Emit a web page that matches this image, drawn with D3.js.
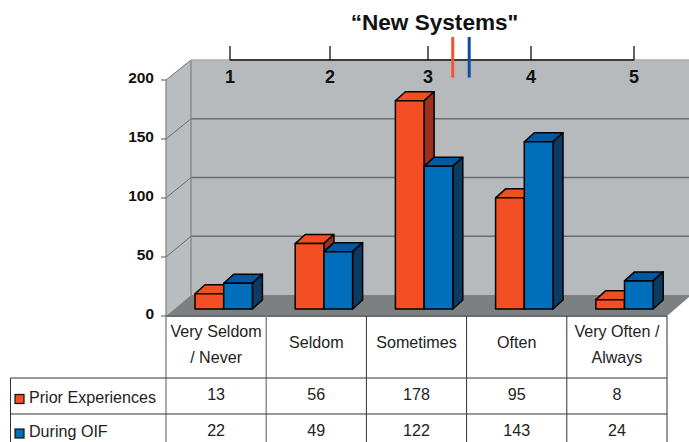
<!DOCTYPE html>
<html>
<head>
<meta charset="utf-8">
<script src="https://cdn.jsdelivr.net/npm/d3@7"></script>
<style>
html,body{margin:0;padding:0;background:#fff;overflow:hidden}
svg{display:block}
text{font-family:"Liberation Sans",Arial,sans-serif}
</style>
</head>
<body>
<svg id="c" width="689" height="442"></svg>
<script>
const chartTitle = "\u201CNew Systems\"";
const categories = [["Very Seldom","/ Never"],["Seldom"],["Sometimes"],["Often"],["Very Often /","Always"]];
const seriesNames = ["Prior Experiences","During OIF"];
const prior = [13,56,178,95,8];
const during = [22,49,122,143,24];
const yTicks = [0,50,100,150,200];
const scalePoints = [1,2,3,4,5];
const means = [3.24,3.40];

const redC = {front:"#F44E25",top:"#F04E23",side:"#9C2F1C"};
const blueC = {front:"#006FBB",top:"#0058A0",side:"#0B3A63"};

const svg = d3.select("#c");
const W = 689;
const frontL = 166, frontR = 667;
const y = d3.scaleLinear().domain([0,200]).range([316,80]);
const yBack = d3.scaleLinear().domain([0,200]).range([295,60]);
const yBar = d3.scaleLinear().domain([0,200]).range([309,75]);
const x = d3.scaleBand().domain(d3.range(categories.length)).range([frontL,frontR]);
const topX = d3.scaleLinear().domain(scalePoints).range([230,330,428,531,634]);
const poly = p => p.map(a=>a.join(",")).join(" ");

// walls and floor
svg.append("polygon").attr("points",poly([[191,60],[W,60],[W,295],[191,295]])).attr("fill","#B6BABD");
svg.append("polygon").attr("points",poly([[frontL,y(200)],[191,60],[191,295],[frontL,316]])).attr("fill","#B9BDC0");
svg.append("polygon").attr("points",poly([[191,295],[W,295],[W,297],[frontR,316],[frontL,316]])).attr("fill","#7D8083");

// grid
const gridT = yTicks.filter(d=>d>0 && d<200);
svg.selectAll(".gb").data(gridT).join("line")
  .attr("x1",191).attr("x2",W).attr("y1",yBack).attr("y2",yBack)
  .attr("stroke","#6A6D70").attr("stroke-width",1.3);
svg.selectAll(".gs").data(yTicks.filter(d=>d>0)).join("line")
  .attr("x1",frontL).attr("x2",191).attr("y1",y).attr("y2",yBack)
  .attr("stroke","#55585a").attr("stroke-width",0.8);
svg.append("line").attr("x1",191).attr("x2",191).attr("y1",60).attr("y2",295).attr("stroke","#7d8083").attr("stroke-width",1.2);
svg.append("line").attr("x1",frontL).attr("x2",frontL).attr("y1",y(200)).attr("y2",316).attr("stroke","#7d8083").attr("stroke-width",1.2);
svg.append("line").attr("x1",191).attr("x2",W).attr("y1",60).attr("y2",60).attr("stroke","#A9ACAE").attr("stroke-width",1.5);

// y axis labels
svg.selectAll(".yt").data(yTicks).join("line")
  .attr("x1",frontL-5).attr("x2",frontL).attr("y1",y).attr("y2",y).attr("stroke","#555");
svg.selectAll(".yl").data(yTicks).join("text")
  .attr("x",154).attr("y",d=>y(d)+3).attr("text-anchor","end")
  .attr("font-size",15.5).attr("font-weight","bold").attr("fill","#111").text(d=>d);

// top Likert scale
svg.append("line").attr("x1",topX(1)).attr("x2",topX(5)).attr("y1",60).attr("y2",60).attr("stroke","#111").attr("stroke-width",1.5);
svg.selectAll(".tt").data(scalePoints).join("line")
  .attr("x1",topX).attr("x2",topX).attr("y1",46).attr("y2",60).attr("stroke","#111").attr("stroke-width",1.3);
svg.selectAll(".tl").data(scalePoints).join("text")
  .attr("x",topX).attr("y",83).attr("text-anchor","middle")
  .attr("font-size",18).attr("font-weight","bold").attr("fill","#111").text(d=>d);
svg.selectAll(".mean").data(means).join("line")
  .attr("x1",topX).attr("x2",topX).attr("y1",37).attr("y2",77.5)
  .attr("stroke",(d,i)=>i?"#0B50A0":"#F4562C").attr("stroke-width",3);

svg.append("text").attr("x",434.5).attr("y",30).attr("text-anchor","middle")
  .attr("font-size",22.6).attr("font-weight","bold").attr("fill","#111").text(chartTitle);

// 3D bars
const barW = 28.7, dx = 10, dy = 9, off = 29;
function bar(val,cx,col){
  const x0=cx, x1=cx+barW, yt=yBar(val), yb=yBar(0);
  const g=svg.append("g").attr("stroke","#000").attr("stroke-width",1.5).attr("stroke-linejoin","round");
  g.append("polygon").attr("points",poly([[x0,yt],[x0+dx,yt-dy],[x1+dx,yt-dy],[x1,yt]])).attr("fill",col.top);
  g.append("polygon").attr("points",poly([[x1,yt],[x1+dx,yt-dy],[x1+dx,yb-dy],[x1,yb]])).attr("fill",col.side);
  g.append("rect").attr("x",x0).attr("y",yt).attr("width",barW).attr("height",yb-yt).attr("fill",col.front);
}
categories.forEach((c,i)=>{
  bar(prior[i],x(i)+off,redC);
  bar(during[i],x(i)+off+barW,blueC);
});

// table
const rowY = [316,378,414,442];
const legendL = 10.5;
const dark="#333", grey="#85888a";
const fs = 16.1;
svg.append("line").attr("x1",frontL).attr("x2",frontR).attr("y1",316).attr("y2",316).attr("stroke","#6A6D70").attr("stroke-width",2);
d3.range(categories.length+1).forEach(i=>{
  const px = i<categories.length ? x(i) : frontR;
  svg.append("line").attr("x1",px).attr("x2",px).attr("y1",316).attr("y2",442)
    .attr("stroke",i<2?grey:dark).attr("stroke-width",i<2?1.4:1);
});
[rowY[1],rowY[2]].forEach(v=>{
  svg.append("line").attr("x1",legendL).attr("x2",frontR).attr("y1",v).attr("y2",v).attr("stroke",dark).attr("stroke-width",1);
});
svg.append("line").attr("x1",legendL).attr("x2",legendL).attr("y1",rowY[1]).attr("y2",442).attr("stroke",dark).attr("stroke-width",1);

categories.forEach((c,i)=>{
  const cx = x(i)+x.bandwidth()/2;
  const lineYs = c.length===1 ? [348] : [337,363];
  c.forEach((s,k)=>{
    svg.append("text").attr("text-anchor","middle").attr("font-size",fs).attr("fill","#222")
      .attr("x",cx).attr("y",lineYs[k]).text(s);
  });
});
[prior,during].forEach((arr,r)=>{
  const by = r?435.5:400;
  svg.selectAll(".v"+r).data(arr).join("text")
    .attr("x",(d,i)=>x(i)+x.bandwidth()/2).attr("y",by)
    .attr("text-anchor","middle").attr("font-size",fs).attr("fill","#222").text(d=>d);
  svg.append("rect").attr("x",15).attr("y",r?429:394.5).attr("width",9).attr("height",9)
    .attr("fill",r?blueC.front:redC.front).attr("stroke","#111").attr("stroke-width",1.2);
  svg.append("text").attr("x",29).attr("y",r?437:402.5).attr("font-size",fs).attr("fill","#222").text(seriesNames[r]);
});
</script>
</body>
</html>
